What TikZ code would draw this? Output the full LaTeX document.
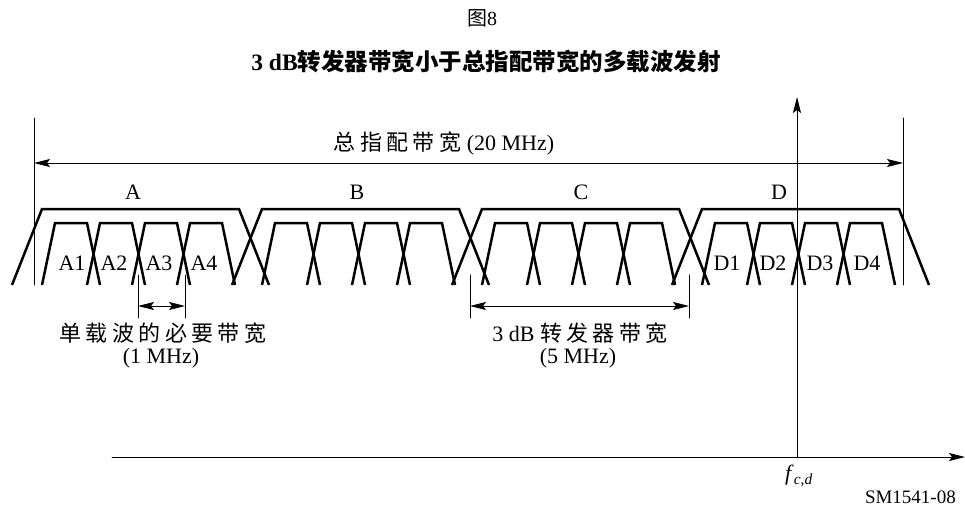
\documentclass[tikz,border=0pt]{standalone}
\usepackage{fontspec}
\setmainfont{Liberation Serif}
\newfontfamily\cjk[LetterSpace=20]{Noto Sans CJK SC}
\newfontfamily\cjkt{Noto Sans CJK SC}
\usetikzlibrary{arrows.meta}

\begin{document}
\begin{tikzpicture}[x=1pt,y=-1pt,>={Stealth[length=16pt,width=8pt,inset=3pt]},
	font=\fontsize{22}{25}\selectfont, line join=round, line cap=round,
	carrier/.style={line width=2.5pt, line cap=butt, line join=miter},
	thin/.style={line width=0.9pt},
	lbl/.style={inner sep=0pt}]
	\useasboundingbox (0,0) rectangle (965,506);
	% titles
	\node[lbl,font=\fontsize{20}{22}\selectfont] (fig) at (482,18) {{\cjkt 图}8};
	\node[lbl,font=\fontsize{23.5}{26}\selectfont] (title) at (486,62) {\bfseries 3 dB{\cjkt 转发器带宽小于总指配带宽的多载波发射}};
	% axes
	\path 
	(112,457) coordinate (O)
	(965,457) coordinate (fend)
	(797,457) coordinate (fcd)
	(797,97) coordinate (ptop)
	;
	\draw[thin,->] (O) -- (fend);
	\draw[thin,->] (fcd) -- (ptop);
	\node[lbl] (fc) at (799,476) {\textit{f}\textsubscript{\textit{c},\textit{d}}};
	\node[lbl,anchor=east,font=\fontsize{19}{21}\selectfont] (sm) at (956,497) {SM1541-08};
	% total assigned bandwidth
	\path 
	(34,118) coordinate (L0)
	(34,285) coordinate (L1)
	(903,118) coordinate (R0)
	(903,285) coordinate (R1)
	(34,163) coordinate (Lm)
	(903,163) coordinate (Rm)
	;
	\draw[thin] (L0)--(L1) (R0)--(R1);
	\draw[thin,<->] (Lm)--(Rm);
	\node[lbl] (tot) at (444,143) {{\cjk 总指配带宽} (20 MHz)};
	% transponders and carriers
	\foreach \g/\name/\lx in {0/A/133,1/B/357,2/C/581,3/D/779}{
		\draw[carrier] ({12+220*\g},285) -- ({42+220*\g},209) -- ({239+220*\g},209) -- ({269+220*\g},285);
		\foreach \k in {0,...,3}
		\draw[carrier] ({42+220*\g+45*\k},285) -- ++(13,-62) -- ++(32,0) -- ++(13,62);
		\node[lbl] (grp\name) at (\lx,192) {\name};
	}
	\foreach \name/\lx in {A1/72,A2/114,A3/159,A4/204,D1/727,D2/773,D3/820,D4/867}
	\node[lbl] (car\name) at (\lx,263) {\name};
	% single carrier bandwidth
	\path 
	(138,275) coordinate (s0)
	(138,318) coordinate (s1)
	(185,275) coordinate (t0)
	(185,318) coordinate (t1)
	(138,306) coordinate (sa)
	(185,306) coordinate (ta)
	;
	\draw[thin] (s0)--(s1) (t0)--(t1);
	\draw[thin,<->] (sa)--(ta);
	\node[lbl] (sc) at (163,333) {\cjk 单载波的必要带宽};
	\node[lbl] (scbw) at (161,358) {(1 MHz)};
	% 3 dB transponder bandwidth
	\path 
	(470,275) coordinate (u0)
	(470,318) coordinate (u1)
	(689,275) coordinate (v0)
	(689,318) coordinate (v1)
	(470,306) coordinate (ua)
	(689,306) coordinate (va)
	;
	\draw[thin] (u0)--(u1) (v0)--(v1);
	\draw[thin,<->] (ua)--(va);
	\node[lbl] (tp) at (580,333) {3 dB {\cjk 转发器带宽}};
	\node[lbl] (tpbw) at (578,358) {(5 MHz)};
\end{tikzpicture}
\end{document}
